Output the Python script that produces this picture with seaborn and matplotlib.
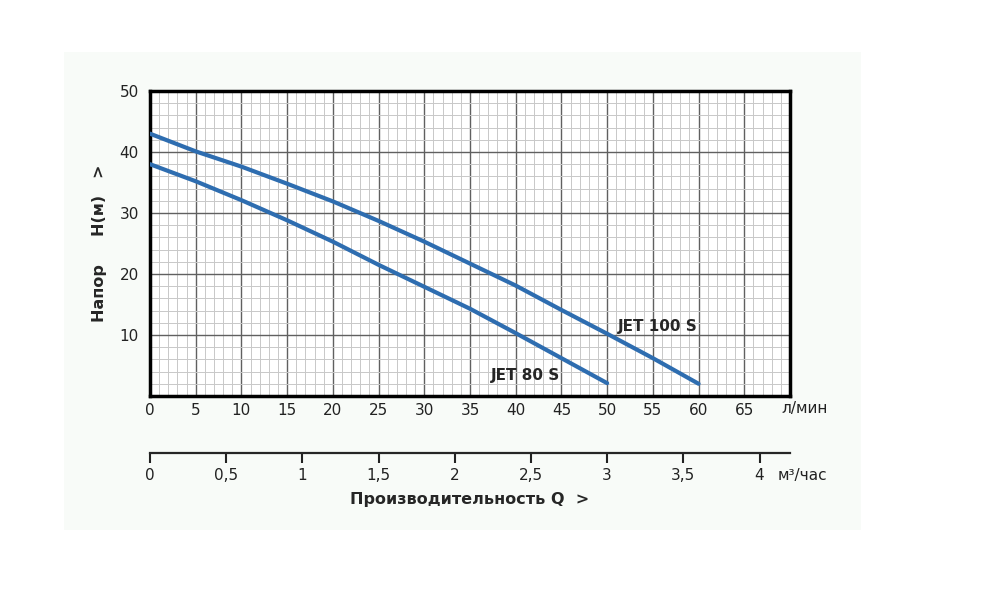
import numpy as np
import pandas as pd
import matplotlib
matplotlib.use("Agg")
import matplotlib.pyplot as plt
from matplotlib.ticker import MultipleLocator
import seaborn as sns

# flow in л/мин and head in м
flow_lpm = [0, 5, 10, 15, 20, 25, 30, 35, 40, 45, 50, 55, 60]
head_jet100 = [43, 40.1, 37.6, 34.8, 31.9, 28.7, 25.3, 21.7, 18.1, 14.1, 10.2, 6.2, 2.0]
flow_lpm_80 = [0, 5, 10, 15, 20, 25, 30, 35, 40, 45, 50]
head_jet80 = [38, 35.2, 32.1, 28.8, 25.3, 21.5, 17.9, 14.3, 10.3, 6.2, 2.1]

x_ticks = [0, 5, 10, 15, 20, 25, 30, 35, 40, 45, 50, 55, 60, 65]
y_ticks = [10, 20, 30, 40, 50]
m3_ticks = [0, 0.5, 1, 1.5, 2, 2.5, 3, 3.5, 4]
m3_labels = ["0", "0,5", "1", "1,5", "2", "2,5", "3", "3,5", "4"]

df = pd.concat([
    pd.DataFrame({"Q": flow_lpm, "H": head_jet100, "pump": "JET 100 S"}),
    pd.DataFrame({"Q": flow_lpm_80, "H": head_jet80, "pump": "JET 80 S"}),
])

sns.set_style("white")
plt.rcParams["font.family"] = ["DejaVu Sans"]

fig = plt.figure(figsize=(9.9, 6.09), dpi=100)
# faint panel behind the chart
fig.patches.append(plt.Rectangle((0.065, 0.13), 0.805, 0.785, transform=fig.transFigure,
                                 facecolor="#f8fbf8", edgecolor="none", zorder=-5))
ax = fig.add_axes([0.1515, 0.3498, 0.6465, 0.5008])

sns.lineplot(data=df, x="Q", y="H", hue="pump", palette=["#2e6db0", "#2e6db0"],
             linewidth=3, legend=False, ax=ax, zorder=5, sort=False)

ax.set_xlim(0, 70)
ax.set_ylim(0, 50)
ax.set_xticks(x_ticks)
ax.set_yticks(y_ticks)
ax.xaxis.set_minor_locator(MultipleLocator(1))
ax.yaxis.set_minor_locator(MultipleLocator(2))
ax.grid(which="minor", color="#c8c8c8", linewidth=0.7)
ax.grid(which="major", color="#606060", linewidth=1.0)
ax.set_axisbelow(True)
ax.tick_params(axis="both", which="both", length=0)
ax.tick_params(axis="x", pad=5, labelsize=11, colors="#222222")
ax.tick_params(axis="y", pad=8, labelsize=11, colors="#222222")
for s in ax.spines.values():
    s.set_linewidth(2.5)
    s.set_color("black")
ax.set_facecolor("white")

ax.set_xlabel("")
ax.set_ylabel("Напор     H(м)   >", fontsize=11.5, fontweight="bold", labelpad=9)

ax.text(51.2, 11.4, "JET 100 S", fontsize=11, fontweight="bold", va="center", ha="left", zorder=6)
ax.text(37.3, 3.3, "JET 80 S", fontsize=11, fontweight="bold", va="center", ha="left", zorder=6)
fig.text(0.789, 0.33, "л/мин", fontsize=11, ha="left", va="center", color="#222222")

# second scale in м³/час
sec = ax.secondary_xaxis(-0.187, functions=(lambda q: q * 0.06, lambda m: m / 0.06))
sec.set_xticks(m3_ticks)
sec.set_xticklabels(m3_labels)
sec.tick_params(axis="x", length=7, width=1.5, pad=4, labelsize=11, colors="#222222")
sec.spines["bottom"].set_linewidth(1.6)
sec.set_xlabel("Производительность Q  >", fontsize=11.5, fontweight="bold", labelpad=6)
fig.text(0.785, 0.22, "м³/час", fontsize=11, ha="left", va="center", color="#222222")

fig.savefig("out.png", dpi=100)
